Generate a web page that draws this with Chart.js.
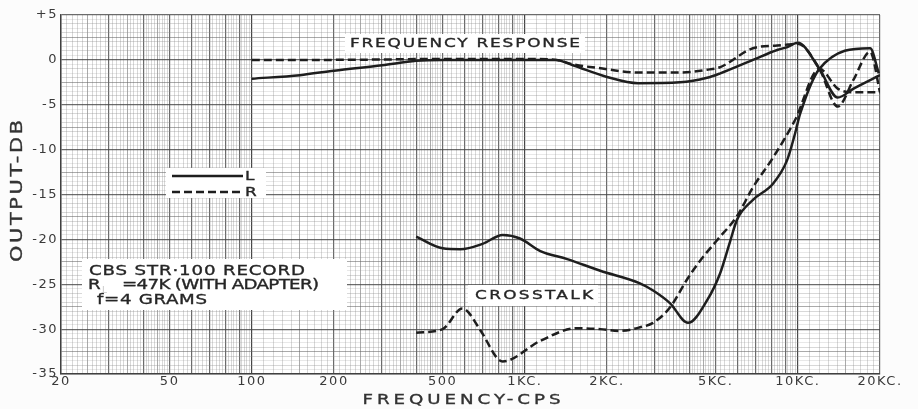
<!DOCTYPE html>
<html>
<head>
<meta charset="utf-8">
<title>Frequency response and crosstalk</title>
<script src="https://cdn.jsdelivr.net/npm/chart.js@4.4.1/dist/chart.umd.min.js"></script>
<style>
  html, body { margin: 0; padding: 0; background: #fcfcfc; }
  canvas { display: block; }
</style>
</head>
<body>
<canvas id="chartCanvas" width="918" height="409"></canvas>
<script>
// Frequency response, left channel (solid) and right channel (dashed)
var respFreqL = [100, 150, 200, 300, 400, 500, 1000, 1300, 1500, 2000, 2600, 3700, 4650, 5200, 6850, 8400, 9100, 10000, 12000, 14000, 16000, 20000]
var respDbL   = [-2.1, -1.7, -1.2, -0.6, -0.1, 0, 0, 0, -0.6, -1.9, -2.6, -2.5, -2.0, -1.5, 0, 1.1, 1.4, 1.9, -1.0, -4.2, -3.2, -1.7]
var respFreqR = [100, 200, 500, 1000, 1300, 1500, 1850, 2600, 3700, 4650, 5200, 6850, 8400, 9200, 10000, 12000, 14000, 16000, 18400, 20000]
var respDbR   = [0, 0, 0.1, 0.1, 0, -0.5, -0.9, -1.4, -1.4, -1.1, -0.8, 1.3, 1.6, 1.7, 1.8, -1.0, -5.2, -2.2, 0.9, -3.6]

// Crosstalk, left (solid) and right (dashed)
var xtalkFreqL = [400, 500, 580, 700, 830, 960, 1140, 1430, 1890, 2640, 2950, 3400, 3960, 4650, 5190, 5640, 5990, 6850, 8110, 9130, 9770, 10200, 12000, 18400, 19800]
var xtalkDbL   = [-19.7, -21.0, -21.1, -20.5, -19.5, -19.9, -21.3, -22.2, -23.5, -24.9, -25.7, -27.1, -29.3, -26.8, -23.8, -20.3, -17.8, -15.6, -13.8, -11.2, -8.2, -6.0, -1.0, 1.3, -1.5]
var xtalkFreqR = [400, 500, 590, 690, 790, 830, 1140, 1550, 1890, 2230, 2640, 2950, 3400, 3960, 4380, 5060, 5990, 6850, 8110, 9770, 12000, 14000, 16000, 20000]
var xtalkDbR   = [-30.4, -30.0, -27.7, -30.2, -33.2, -33.6, -31.3, -29.9, -30.0, -30.2, -29.8, -29.3, -27.6, -24.3, -22.4, -20.1, -17.4, -14.2, -10.9, -6.7, -1.0, -3.2, -3.6, -3.6]

// Axis labels
var xLabelValues = [20, 50, 100, 200, 500, 1000, 2000, 5000, 10000, 20000]
var xLabelText   = ['20', '50', '100', '200', '500', '1KC.', '2KC.', '5KC.', '10KC.', '20KC.']
var yMin = -35
var yMax = 5

var ink = '#1e1e1e'

function toPoints(freqs, dbs) {
    return freqs.map(function (f, i) { return { x: f, y: dbs[i] } })
}

function curve(label, freqs, dbs, dashed) {
    return {
        label: label,
        data: toPoints(freqs, dbs),
        borderColor: ink,
        borderWidth: 2.5,
        borderDash: dashed ? [8, 4] : [],
        pointRadius: 0,
        fill: false,
        cubicInterpolationMode: 'monotone'
    }
}

// log paper: heavy line on every whole step, lighter ones in between
function buildFreqTicks(scale) {
    var ticks = []
    ;[10, 100, 1000, 10000].forEach(function (d) {
        for (var m = 10; m < 100; m += (m < 50 ? 1 : 2)) {
            var v = d * m / 10
            if (v >= 20 && v <= 20000) ticks.push({ value: v })
        }
    })
    scale.ticks = ticks
}

function freqKind(v) {
    var d = Math.pow(10, Math.floor(Math.log10(v) + 1e-9))
    var m = Math.round(v / d * 10)
    if (m === 10) return 3
    if (m % 10 === 0) return 2
    if (m % 5 === 0) return 1
    return 0
}

function buildDbTicks(scale) {
    var ticks = []
    for (var i = yMin * 2; i <= yMax * 2; i++) ticks.push({ value: i / 2 })
    scale.ticks = ticks
}

function dbKind(v) {
    if (v % 5 === 0) return 2
    if (v % 2.5 === 0) return 1
    if (v % 1 === 0) return 0
    return -1
}

var lineColors = { '-1': 'rgba(150,150,150,0.22)', '0': 'rgba(140,140,140,0.34)', '1': 'rgba(100,100,100,0.55)', '2': 'rgba(70,70,70,0.8)', '3': 'rgba(50,50,50,0.9)' }

// extended lettering: widen the glyphs, then space them out to the given width
function spacedText(ctx, text, x, y, width, align, stretch) {
    var sx = stretch || 1.3
    ctx.letterSpacing = '0px'
    var w = ctx.measureText(text).width * sx
    var gap = text.length > 1 ? (width - w) / (text.length - 1) / sx : 0
    ctx.save()
    ctx.translate(align === 'center' ? x - width / 2 : x, y)
    ctx.scale(sx, 1)
    ctx.letterSpacing = gap + 'px'
    ctx.textAlign = 'left'
    ctx.fillText(text, 0, 0)
    ctx.lineWidth = 0.35
    ctx.strokeStyle = ctx.fillStyle
    ctx.strokeText(text, 0, 0)
    ctx.restore()
}

var whiteBoxes = [
    [345, 34, 240, 19],
    [468, 285, 130, 21],
    [82, 259, 265, 51],
    [166, 168, 100, 30]
]

var notes = [
    { text: 'FREQUENCY RESPONSE', x: 465, y: 44, w: 230, size: 13, align: 'center' },
    { text: 'CROSSTALK', x: 534, y: 296, w: 118, size: 13, align: 'center' },
    { text: 'CBS STR\u00b7100 RECORD', x: 89, y: 271, w: 216, size: 14, align: 'left' },
    { text: 'f=4 GRAMS', x: 97, y: 300, w: 110, size: 14, align: 'left' }
]

var paperNotes = {
    id: 'paperNotes',
    beforeDraw: function (chart) {
        var ctx = chart.ctx
        ctx.save()
        ctx.fillStyle = '#fcfcfc'
        ctx.fillRect(0, 0, chart.width, chart.height)
        var a = chart.chartArea
        ctx.fillStyle = '#ffffff'
        ctx.fillRect(a.left, a.top, a.right - a.left, a.bottom - a.top)
        ctx.restore()
        // the tick labels use the same wide lettering
        ctx.letterSpacing = '1.5px'
    },
    beforeDatasetsDraw: function (chart) {
        var ctx = chart.ctx
        ctx.save()
        ctx.fillStyle = '#ffffff'
        whiteBoxes.forEach(function (b) { ctx.fillRect(b[0], b[1], b[2], b[3]) })

        ctx.fillStyle = '#262626'
        ctx.textBaseline = 'middle'
        notes.forEach(function (n) {
            ctx.font = n.size + 'px "DejaVu Sans"'
            spacedText(ctx, n.text, n.x, n.y, n.w, n.align)
        })

        // R with a faint load subscript
        ctx.font = '14px "DejaVu Sans"'
        spacedText(ctx, 'R', 88, 285, 10, 'left')
        ctx.fillStyle = '#c8c8c8'
        ctx.font = '9px "DejaVu Sans"'
        ctx.letterSpacing = '0px'
        ctx.fillText('L', 102, 291)
        ctx.fillStyle = '#262626'
        ctx.font = '14px "DejaVu Sans"'
        spacedText(ctx, '=47K (WITH ADAPTER)', 122, 285, 197, 'left')

        // key for the two channels, styled from the datasets
        var keys = [[chart.data.datasets[0], 'L', 176], [chart.data.datasets[1], 'R', 192]]
        keys.forEach(function (k) {
            ctx.strokeStyle = k[0].borderColor
            ctx.lineWidth = k[0].borderWidth
            ctx.setLineDash(k[0].borderDash)
            ctx.beginPath()
            ctx.moveTo(172, k[2])
            ctx.lineTo(243, k[2])
            ctx.stroke()
            ctx.setLineDash([])
            ctx.font = '13px "DejaVu Sans"'
            spacedText(ctx, k[1], 245, k[2] + 1, 9, 'left')
        })
        ctx.restore()
    },
    afterDraw: function (chart) {
        var ctx = chart.ctx
        var a = chart.chartArea
        ctx.save()
        ctx.fillStyle = '#333333'
        ctx.textBaseline = 'middle'
        ctx.font = '14px "DejaVu Sans"'
        spacedText(ctx, 'FREQUENCY-CPS', (a.left + a.right) / 2 - 9, 400, 198, 'center')
        ctx.translate(18, 191)
        ctx.rotate(-Math.PI / 2)
        ctx.font = '16px "DejaVu Sans"'
        spacedText(ctx, 'OUTPUT-DB', 0, 0, 142, 'center')
        ctx.restore()
    }
}

var chartCanvas = document.getElementById('chartCanvas')
var myChart = new Chart(chartCanvas, {
    type: 'line',
    data: {
        datasets: [
            curve('Frequency response L', respFreqL, respDbL, false),
            curve('Frequency response R', respFreqR, respDbR, true),
            curve('Crosstalk L', xtalkFreqL, xtalkDbL, false),
            curve('Crosstalk R', xtalkFreqR, xtalkDbR, true)
        ]
    },
    options: {
        responsive: false,
        animation: false,
        layout: { padding: { top: 15, right: 38, bottom: 0, left: 0 } },
        plugins: { legend: { display: false }, tooltip: { enabled: false } },
        scales: {
            x: {
                type: 'logarithmic',
                min: 20,
                max: 20000,
                afterBuildTicks: buildFreqTicks,
                afterFit: function (s) { s.height = 35 },
                border: { color: 'rgba(60,60,60,0.9)', width: 1.5 },
                grid: {
                    drawTicks: false,
                    color: function (c) { return lineColors[freqKind(c.tick.value)] },
                    lineWidth: function (c) { return freqKind(c.tick.value) >= 2 ? 1.2 : 1 }
                },
                ticks: {
                    autoSkip: false,
                    maxRotation: 0,
                    minRotation: 0,
                    padding: 0,
                    color: '#3a3a3a',
                    font: { family: 'DejaVu Sans', size: 13 },
                    callback: function (v) {
                        var i = xLabelValues.indexOf(v)
                        return i >= 0 ? xLabelText[i] : ''
                    }
                }
            },
            y: {
                min: yMin,
                max: yMax,
                afterBuildTicks: buildDbTicks,
                afterFit: function (s) { s.width = 61 },
                border: { color: 'rgba(60,60,60,0.9)', width: 1.5 },
                grid: {
                    drawTicks: false,
                    color: function (c) { return lineColors[dbKind(c.tick.value)] },
                    lineWidth: function (c) { return dbKind(c.tick.value) === 2 ? 1.2 : 1 }
                },
                ticks: {
                    autoSkip: false,
                    padding: 3,
                    color: '#3a3a3a',
                    font: { family: 'DejaVu Sans', size: 13 },
                    callback: function (v) {
                        if (v % 5 !== 0) return ''
                        return v > 0 ? '+' + v : String(v)
                    }
                }
            }
        }
    },
    plugins: [paperNotes]
})
</script>
</body>
</html>
